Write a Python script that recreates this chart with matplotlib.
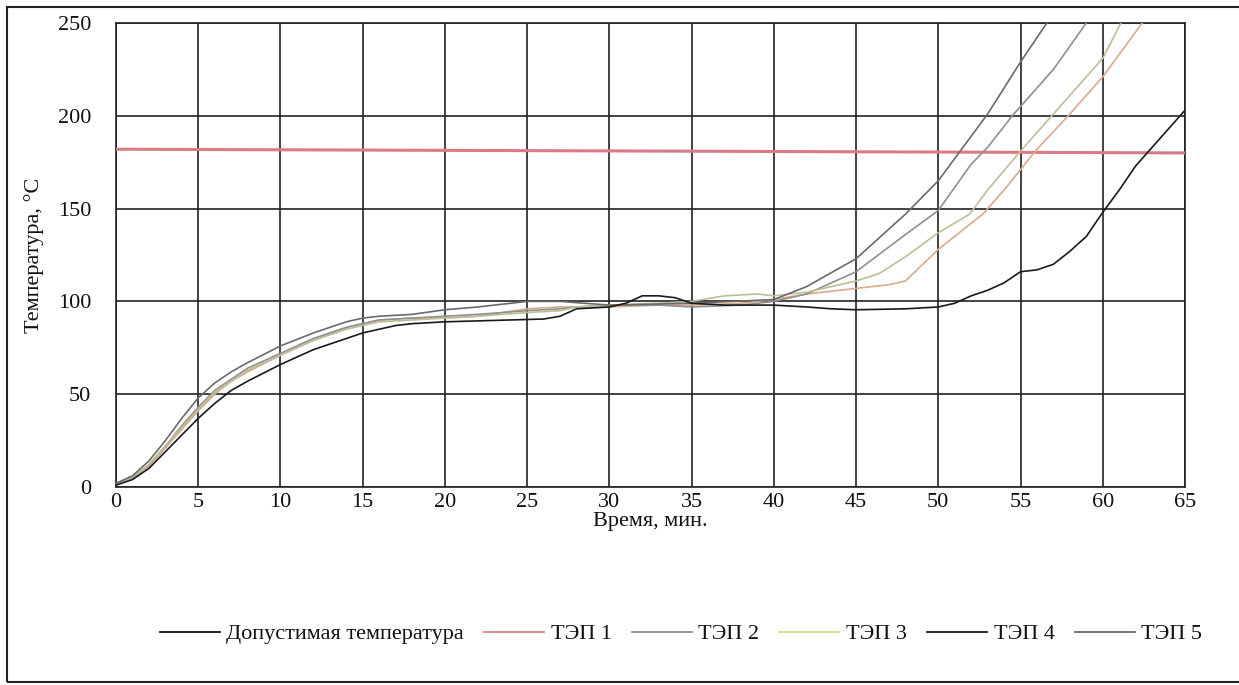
import numpy as np
import matplotlib
matplotlib.use("Agg")
import matplotlib.pyplot as plt
from matplotlib.lines import Line2D
from matplotlib.patches import Rectangle

plt.rcParams['font.family'] = ['Liberation Serif', 'DejaVu Serif']

# ---- data ----
limit_t = [0, 65]
limit_v = [182, 180]

t5 = [0, 1, 2, 3, 4, 5, 6, 7, 8, 10, 12, 14, 15, 16, 18, 20, 22, 24, 25, 27, 30, 35, 40, 42, 45, 48, 50, 52, 53, 55, 56.6, 57]
v5 = [2, 6, 14, 25, 37, 48, 56, 62, 67, 76, 83, 89, 91, 92, 93, 95.5, 97, 99, 100, 100, 98, 99, 101, 108, 123, 147, 165, 189, 201, 229, 250, 256]

t2 = [0, 1, 2, 3, 4, 5, 6, 7, 8, 10, 12, 14, 15, 16, 18, 20, 22, 25, 27, 28, 30, 33, 35, 38, 40, 42, 45, 48, 50, 52, 53, 54.5, 55, 57, 59, 59.5]
v2 = [2, 5, 12, 22, 33, 43, 52, 58, 64, 72, 80, 86, 88, 90, 91, 92, 93, 95, 96, 97, 98, 98, 97, 98, 100, 104, 116, 136, 149, 174, 183, 200, 205, 225, 250, 256]

t3 = [0, 1, 2, 3, 4, 5, 6, 7, 8, 10, 12, 14, 15, 16, 18, 20, 22, 25, 27, 28, 30, 33, 35, 37, 39, 40, 42, 45, 46.4, 48, 50, 51.9, 53, 55, 57, 60, 61.1, 61.5]
v3 = [2, 5, 12, 22, 32, 42, 51, 57, 63, 71, 79, 85, 87, 89, 90, 91, 92, 94, 95, 97, 98, 99, 100, 103, 104, 103, 105, 111, 115, 124, 137, 147, 160, 181, 201, 231, 250, 255]

t1 = [0, 1, 2, 3, 4, 5, 6, 7, 8, 10, 12, 14, 15, 16, 18, 20, 22, 25, 27, 30, 33, 35, 38, 40, 42, 45, 47, 48, 50, 52.7, 54, 55.9, 57.9, 60, 62.4, 63]
v1 = [2, 5, 11, 21, 31, 41, 50, 57, 62, 71, 79, 86, 88, 90, 91, 91, 92, 96, 97, 97, 98, 98, 99, 101, 104, 107, 109, 111, 128, 147, 160, 181, 200, 221, 250, 256]

t4 = [0, 1, 2, 3, 4, 5, 6, 7, 8, 10, 12, 14, 15, 16, 17, 18, 20, 22, 24, 26, 27, 28, 30, 31, 32, 33, 34, 35, 37, 40, 42, 43.5, 45, 48, 50, 51, 52, 53, 54, 55, 56, 57, 58, 59, 60, 61, 62, 63, 64, 65]
v4 = [1, 4, 10, 19, 28, 37, 45, 52, 57, 66, 74, 80, 83, 85, 87, 88, 89, 89.5, 90, 90.5, 92, 96, 97, 99, 103, 103, 102, 99, 98, 98, 97, 96, 95.5, 96, 97, 99, 103, 106, 110, 116, 117, 120, 127, 135, 148, 160, 173, 183, 193, 203]

x_ticks = list(range(0, 66, 5))
y_ticks = list(range(0, 251, 50))
labels = ['Допустимая температура', 'ТЭП 1', 'ТЭП 2', 'ТЭП 3', 'ТЭП 4', 'ТЭП 5']

# ---- style ----
c_limit = '#db7a85'
c1, c2, c3, c4, c5 = '#d9aa8c', '#909090', '#bdbd98', '#1a1a1a', '#6a6a6a'

fig = plt.figure(figsize=(12.39, 6.85), dpi=100)
W, H = 1239, 685
ax = fig.add_axes([116 / W, 1 - 487 / H, (1185 - 116) / W, (487 - 23) / H])

ax.plot(limit_t, limit_v, color=c_limit, lw=2.2, solid_capstyle='butt', zorder=3)
ax.plot(t1, v1, color=c1, lw=1.2, zorder=4)
ax.plot(t2, v2, color=c2, lw=1.2, zorder=4)
ax.plot(t3, v3, color=c3, lw=1.2, zorder=4)
ax.plot(t5, v5, color=c5, lw=1.2, zorder=4)
ax.plot(t4, v4, color=c4, lw=1.2, zorder=5)

ax.set_xlim(0, 65)
ax.set_ylim(0, 250)
ax.set_xticks(x_ticks)
ax.set_yticks(y_ticks)
ax.grid(True, color='#222222', lw=1.2)
ax.set_axisbelow(True)
for s in ax.spines.values():
    s.set_color('#222222')
    s.set_linewidth(1.2)
ax.tick_params(length=0, labelsize=16, colors='#111111')
ax.tick_params(axis='x', pad=4)
ax.tick_params(axis='y', pad=18)
ax.set_xlabel('Время, мин.', fontsize=16, color='#111111', labelpad=0)
ax.set_ylabel('Температура, °С', fontsize=16, color='#111111', labelpad=10)

handles = [Line2D([], [], color=c, lw=1.3) for c in ['#111111', '#d98080', c2, '#d8d890', c4, c5]]
fig.legend(handles, labels, loc='center', bbox_to_anchor=(681 / W, 1 - 634 / H), ncol=6,
           frameon=False, fontsize=16, handlelength=2.7, handletextpad=0.3, columnspacing=0.9,
           labelcolor='#111111')

fig.patches.append(Rectangle((7 / W, 1 - 682 / H), 1.2, (682 - 7) / H, transform=fig.transFigure,
                             fill=False, edgecolor='#222222', lw=1.5))

fig.savefig('out.png', dpi=100, facecolor='white')
